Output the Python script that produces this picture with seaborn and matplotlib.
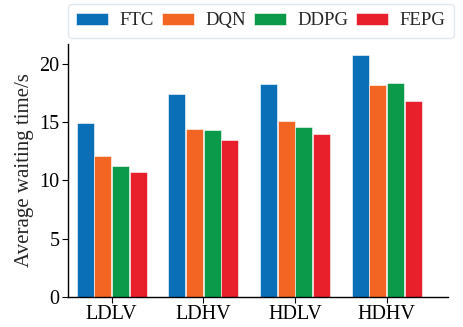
import matplotlib
matplotlib.use("Agg")
import matplotlib.pyplot as plt
import seaborn as sns
import pandas as pd

scenarios = ["LDLV", "LDHV", "HDLV", "HDHV"]
methods = ["FTC", "DQN", "DDPG", "FEPG"]
ftc = [14.9, 17.45, 18.3, 20.8]
dqn = [12.1, 14.4, 15.1, 18.2]
ddpg = [11.2, 14.3, 14.6, 18.4]
fepg = [10.7, 13.5, 14.0, 16.8]
colors = ["#0b6fb8", "#f26522", "#0b9a4a", "#e8202b"]

df = pd.DataFrame({
    "scenario": scenarios * 4,
    "method": sum([[m] * 4 for m in methods], []),
    "value": ftc + dqn + ddpg + fepg,
})

sns.set_style("ticks")
plt.rcParams["font.family"] = ["Liberation Serif", "DejaVu Serif"]

fig = plt.figure(figsize=(4.63, 3.27), dpi=100)
ax = fig.add_axes([0.147, 0.092, 0.821, 0.773])
sns.barplot(data=df, x="scenario", y="value", hue="method", order=scenarios,
            hue_order=methods, palette=colors, width=0.77, gap=0.04,
            saturation=1, edgecolor="white", linewidth=0.4, ax=ax)

ax.set_xlim(-0.475, 3.67)
ax.set_ylim(0, 21.7)
ax.set_yticks([0, 5, 10, 15, 20])
ax.set_xlabel("")
ax.set_ylabel("Average waiting time/s", fontsize=15, labelpad=4)
ax.tick_params(labelsize=14.5, length=4, width=0.8, colors="black", pad=2)
sns.despine(ax=ax)
for s in ("left", "bottom"):
    ax.spines[s].set_linewidth(1.0)
    ax.spines[s].set_color("black")

ax.legend(loc="lower left", bbox_to_anchor=(0.0, 1.025, 1.015, 0.1), mode="expand",
          ncol=4, frameon=True, fontsize=13.5, handlelength=1.7, handleheight=0.6,
          handletextpad=0.6, columnspacing=0.3, borderaxespad=0.0,
          edgecolor="#dde3ea", fancybox=True, borderpad=0.45)

fig.savefig("out.png", dpi=100)
